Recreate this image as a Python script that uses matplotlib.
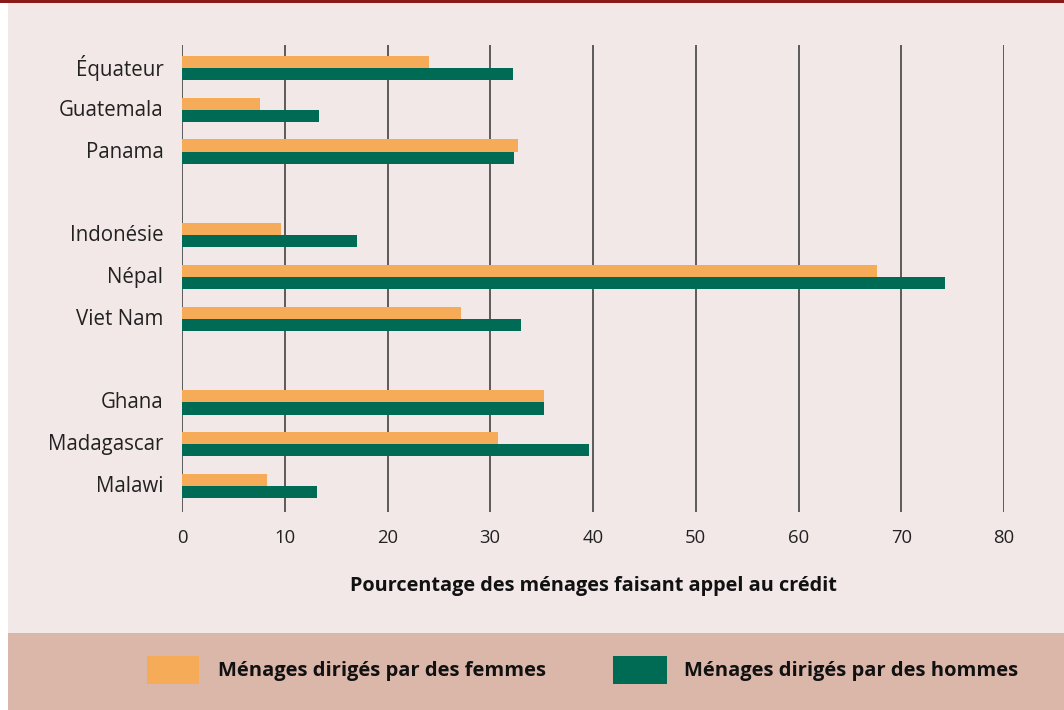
import matplotlib
matplotlib.use("Agg")
import matplotlib.pyplot as plt
from matplotlib.patches import Rectangle
from matplotlib.transforms import ScaledTranslation

countries = ["Équateur", "Guatemala", "Panama", "Indonésie", "Népal", "Viet Nam",
             "Ghana", "Madagascar", "Malawi"]
positions = [0, 1, 2, 4, 5, 6, 8, 9, 10]
women = [24.0, 7.6, 32.7, 9.6, 67.6, 27.2, 35.2, 30.8, 8.3]
men = [32.2, 13.3, 32.3, 17.0, 74.3, 33.0, 35.2, 39.6, 13.1]
xticks = [0, 10, 20, 30, 40, 50, 60, 70, 80]
xlabel = "Pourcentage des ménages faisant appel au crédit"
legend_labels = ["Ménages dirigés par des femmes", "Ménages dirigés par des hommes"]

C_W = "#F6AB59"
C_M = "#006B54"
BG = "#F2E8E7"
BAND = "#DBB7AA"
FONT = "Open Sans"

W, H = 1064, 710
fig = plt.figure(figsize=(W / 100, H / 100), dpi=100, facecolor="white")

def fr(x0, y0, x1, y1, color):
    fig.add_artist(Rectangle((x0 / W, 1 - y1 / H), (x1 - x0) / W, (y1 - y0) / H,
                             transform=fig.transFigure, color=color, lw=0, zorder=0))

fr(8, 0, W, 633, BG)
fr(8, 633, W, H, BAND)
fr(0, 0, W, 3, "#8B1A1A")

ax = fig.add_axes([182 / W, 1 - 512 / H, (1004 - 182) / W, (512 - 45) / H])
ax.set_facecolor("none")
h = 0.29
ax.barh([p - h / 2 for p in positions], women, height=h, color=C_W, zorder=3)
ax.barh([p + h / 2 for p in positions], men, height=h, color=C_M, zorder=3)
ax.set_ylim(10.62, -0.55)
ax.set_xlim(0, 80)
ax.set_xticks(xticks)
ax.set_xticklabels([str(t) for t in xticks], fontsize=13.3, family=FONT, color="#222222")
ax.set_yticks(positions)
ax.set_yticklabels(countries, fontsize=14.8, family=FONT, color="#222222")
ax.tick_params(length=0, axis="both")
ax.tick_params(axis="y", pad=13.5)
ax.tick_params(axis="x", pad=12)
shift = ScaledTranslation(0, 2 / 100, fig.dpi_scale_trans)
for lab in ax.get_yticklabels():
    lab.set_transform(lab.get_transform() + shift)
for t in xticks:
    ax.axvline(t, color="#333333", lw=1.1, zorder=1)
for s in ax.spines.values():
    s.set_visible(False)
ax.set_xlabel(xlabel, fontsize=14.3, family=FONT, fontweight="bold", labelpad=21, color="#111111")

# legend
fr(147, 656, 199, 684, C_W)
fr(613, 656, 667, 684, C_M)
fig.text(218 / W, 1 - 671 / H, legend_labels[0], fontsize=14.5, family=FONT,
         fontweight="bold", va="center", ha="left", color="#111111")
fig.text(684 / W, 1 - 671 / H, legend_labels[1], fontsize=14.5, family=FONT,
         fontweight="bold", va="center", ha="left", color="#111111")

fig.savefig("out.png", dpi=100, facecolor="white")
